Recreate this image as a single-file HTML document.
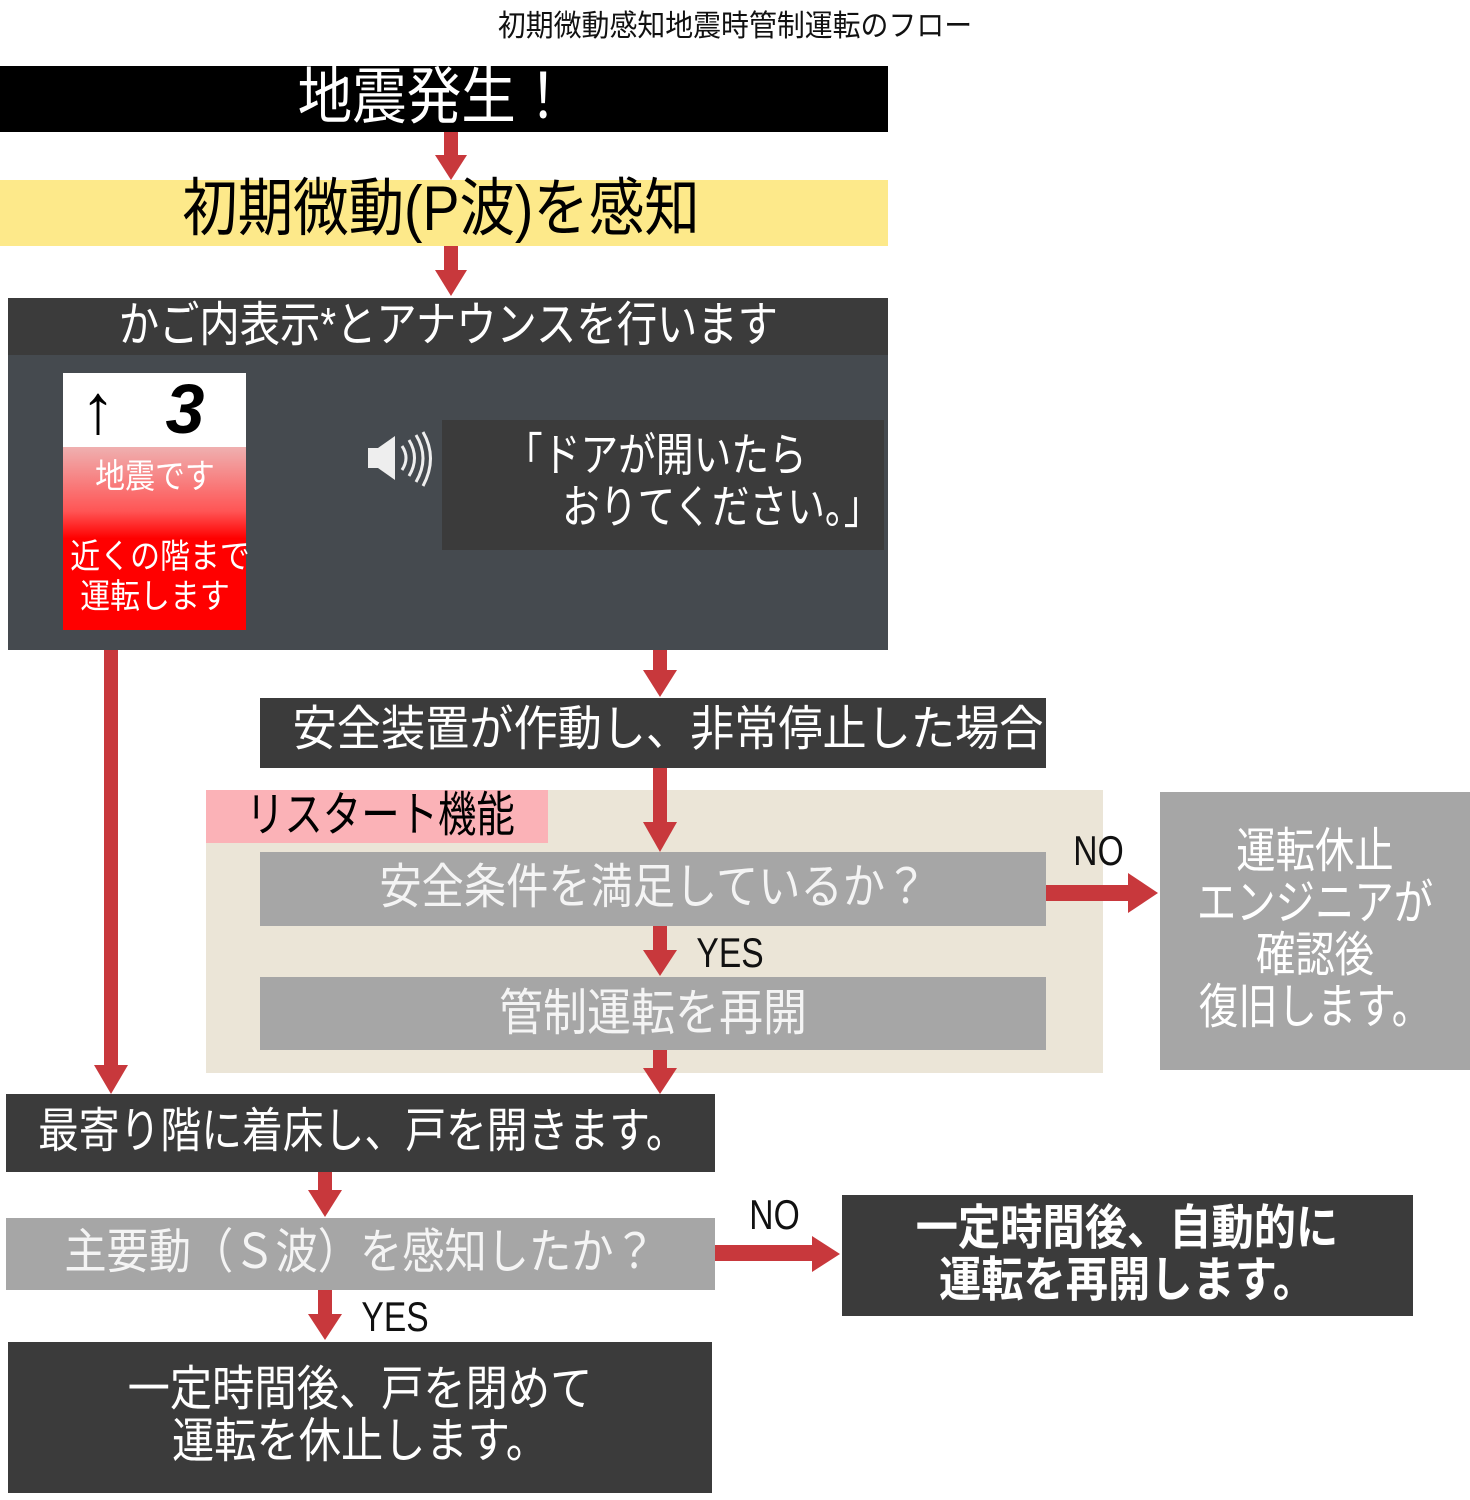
<!DOCTYPE html>
<html><head><meta charset="utf-8">
<style>
body{margin:0;width:1470px;height:1500px;background:#fff;position:relative;overflow:hidden;font-family:"Liberation Sans","Noto Sans CJK JP",sans-serif;}
.b{position:absolute;}
.c{position:absolute;text-align:center;white-space:nowrap;line-height:1;}
.c span{display:inline-block;transform:scaleX(0.88);transform-origin:center;}
svg{position:absolute;left:0;top:0;}
</style></head><body>
<div class="c" style="left:0;width:1470px;top:12px;font-size:30px;color:#111"><span style="transform:scaleX(0.93)">初期微動感知地震時管制運転のフロー</span></div>

<div class="b" style="left:0;top:66px;width:888px;height:66px;background:#000"></div>
<div class="c" style="left:0;width:868px;top:67px;font-size:62px;color:#fff"><span>地震発生！</span></div>

<div class="b" style="left:0;top:180px;width:888px;height:66px;background:#fde98a"></div>
<div class="c" style="left:0;width:882px;top:178px;font-size:63px;color:#000"><span>初期微動(P波)を感知</span></div>

<div class="b" style="left:8px;top:298px;width:880px;height:352px;background:#454a4f"></div>
<div class="b" style="left:8px;top:298px;width:880px;height:57px;background:#3b3b3b"></div>
<div class="c" style="left:8px;width:880px;top:302px;font-size:48px;color:#fff"><span style="transform:scaleX(0.84)">かご内表示*とアナウンスを行います</span></div>

<div class="b" style="left:63px;top:373px;width:183px;height:75px;background:#fff"></div>
<div class="c" style="left:68px;width:60px;top:374px;font-size:70px;color:#000;font-weight:bold">↑</div>
<div class="c" style="left:150px;width:70px;top:374px;font-size:70px;color:#000;font-weight:bold;font-style:italic">3</div>
<div class="b" style="left:63px;top:447px;width:183px;height:183px;background:linear-gradient(#efb0b0 0%,#f55 35%,#f00 50%,#f00 100%)"></div>
<div class="c" style="left:63px;width:183px;top:460px;font-size:34px;color:#fff"><span>地震です</span></div>
<div class="c" style="left:58px;width:193px;top:540px;font-size:34px;color:#fff"><span>近くの階まで</span></div>
<div class="c" style="left:63px;width:183px;top:580px;font-size:34px;color:#fff"><span>運転します</span></div>

<div class="b" style="left:442px;top:420px;width:442px;height:130px;background:#3b3b3b"></div>
<div class="c" style="left:505px;width:400px;top:432px;font-size:46px;color:#fff;text-align:left"><span style="transform-origin:left;transform:scaleX(0.82)">「ドアが開いたら</span></div>
<div class="c" style="left:562px;width:320px;top:484px;font-size:46px;color:#fff;text-align:left"><span style="transform-origin:left;transform:scaleX(0.82)">おりてください。」</span></div>

<div class="b" style="left:260px;top:698px;width:786px;height:70px;background:#3b3b3b"></div>
<div class="c" style="left:260px;width:786px;top:706px;font-size:48px;color:#fff"><span style="transform:scaleX(0.92)">安全装置が作動し、非常停止した場合</span></div>

<div class="b" style="left:206px;top:790px;width:897px;height:283px;background:#ebe5d7"></div>
<div class="b" style="left:206px;top:790px;width:342px;height:53px;background:#fbb2b7"></div>
<div class="c" style="left:206px;width:342px;top:792px;font-size:48px;color:#000;text-align:left;padding-left:40px"><span style="transform-origin:left;transform:scaleX(0.8)">リスタート機能</span></div>

<div class="b" style="left:260px;top:852px;width:786px;height:74px;background:#a6a6a6"></div>
<div class="c" style="left:260px;width:786px;top:864px;font-size:48px;color:#f4f4f4"><span>安全条件を満足しているか？</span></div>
<div class="b" style="left:260px;top:977px;width:786px;height:73px;background:#a6a6a6"></div>
<div class="c" style="left:260px;width:786px;top:988px;font-size:50px;color:#f4f4f4"><span>管制運転を再開</span></div>

<div class="b" style="left:1160px;top:792px;width:310px;height:278px;background:#a6a6a6"></div>
<div class="c" style="left:1160px;width:310px;top:826px;font-size:48px;color:#fff;line-height:52px"><span style="transform:scaleX(0.82)">運転休止<br>エンジニアが<br>確認後<br>復旧します。</span></div>

<div class="c" style="left:1062px;width:72px;top:830px;font-size:42px;color:#111"><span style="transform:scaleX(0.8)">NO</span></div>
<div class="c" style="left:680px;width:100px;top:932px;font-size:42px;color:#111"><span style="transform:scaleX(0.8)">YES</span></div>

<div class="b" style="left:6px;top:1094px;width:709px;height:78px;background:#3b3b3b"></div>
<div class="c" style="left:6px;width:710px;top:1108px;font-size:48px;color:#fff;text-align:left;padding-left:32px"><span style="transform-origin:left;transform:scaleX(0.85)">最寄り階に着床し、戸を開きます。</span></div>

<div class="b" style="left:6px;top:1218px;width:709px;height:72px;background:#a6a6a6"></div>
<div class="c" style="left:6px;width:709px;top:1229px;font-size:48px;color:#f4f4f4"><span>主要動（Ｓ波）を感知したか？</span></div>

<div class="c" style="left:738px;width:72px;top:1194px;font-size:42px;color:#111"><span style="transform:scaleX(0.8)">NO</span></div>
<div class="c" style="left:345px;width:100px;top:1296px;font-size:42px;color:#111"><span style="transform:scaleX(0.8)">YES</span></div>

<div class="b" style="left:842px;top:1195px;width:571px;height:121px;background:#3b3b3b"></div>
<div class="c" style="left:842px;width:571px;top:1203px;font-size:48px;color:#fff;font-weight:bold;line-height:52px"><span>一定時間後、自動的に<br>運転を再開します。</span></div>

<div class="b" style="left:8px;top:1342px;width:704px;height:151px;background:#3b3b3b"></div>
<div class="c" style="left:8px;width:704px;top:1364px;font-size:48px;color:#fff;line-height:52px"><span>一定時間後、戸を閉めて<br>運転を休止します。</span></div>

<svg width="1470" height="1500" viewBox="0 0 1470 1500">
<g fill="#c8383c">
<rect x="444" y="132" width="14" height="26"/><polygon points="435,155 467,155 451,180"/>
<rect x="444" y="246" width="14" height="28"/><polygon points="435,270 467,270 451,296"/>
<rect x="104" y="650" width="14" height="420"/><polygon points="94,1065 128,1065 111,1094"/>
<rect x="653" y="650" width="14" height="22"/><polygon points="643,670 677,670 660,697"/>
<rect x="653" y="768" width="14" height="60"/><polygon points="643,822 677,822 660,852"/>
<rect x="653" y="926" width="14" height="28"/><polygon points="643,950 677,950 660,976"/>
<rect x="653" y="1050" width="14" height="22"/><polygon points="643,1068 677,1068 660,1094"/>
<rect x="318" y="1172" width="14" height="22"/><polygon points="308,1190 342,1190 325,1217"/>
<rect x="318" y="1290" width="14" height="28"/><polygon points="308,1314 342,1314 325,1340"/>
<rect x="1046" y="885" width="86" height="16"/><polygon points="1128,873 1128,913 1158,893"/>
<rect x="715" y="1245" width="100" height="16"/><polygon points="812,1236 812,1272 840,1254"/>
</g>
<g fill="#eee">
<polygon points="368,448 378,448 395,436 395,480 378,468 368,468"/>
</g>
<g fill="none" stroke="#eee" stroke-width="3">
<path d="M402,446 Q410,458 402,470"/><path d="M409,440 Q420,458 409,476"/><path d="M416,435 Q430,458 416,482"/><path d="M423,432 Q438,458 423,486"/>
</g>
</svg>
</body></html>
